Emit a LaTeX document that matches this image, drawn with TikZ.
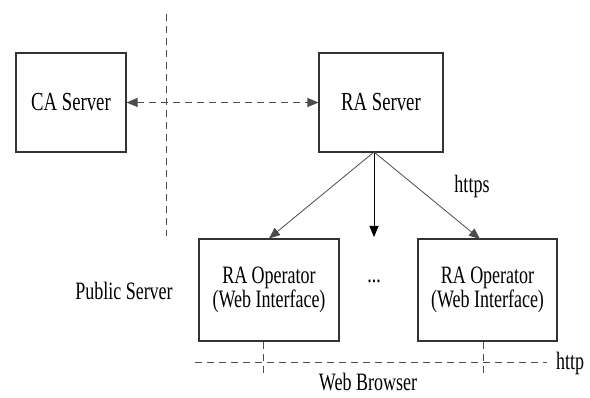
\documentclass[tikz,border=0pt]{standalone}
\usepackage{fontspec}
\setmainfont[FakeStretch=0.72]{Liberation Serif}
\usetikzlibrary{arrows.meta}
\begin{document}
\begin{tikzpicture}[x=1pt,y=-1pt,
  box/.style={draw=black!80,line width=1.1pt,inner sep=0pt,align=center},
  lbl/.style={inner sep=0pt,font=\fontsize{25}{21}\selectfont,align=center},
  tip/.style={-{Triangle[length=11pt,width=9pt]}},
  conn/.style={draw=black!70,line width=0.8pt,tip},
  dsh/.style={draw=black!70,line width=1pt,dash pattern=on 7pt off 5pt},
]
\useasboundingbox (0,0) rectangle (590,398);
\fill[white] (0,0) rectangle (590,398);
\node[box,minimum width=110pt,minimum height=99pt,font=\fontsize{26}{26}\selectfont] (ca) at (71,102.5) {CA Server};
\node[box,minimum width=124pt,minimum height=99pt,font=\fontsize{26}{26}\selectfont] (ra) at (381,102.5) {RA Server};
\node[box,minimum width=140pt,minimum height=102pt,font=\fontsize{25}{21}\selectfont] (op1) at (269,290) {RA Operator\\(Web Interface)};
\node[box,minimum width=139pt,minimum height=102pt,font=\fontsize{25}{21}\selectfont] (op2) at (487.5,290) {RA Operator\\(Web Interface)};
\node[lbl] (dots) at (374,281) {...};
\node[lbl] (pub) at (124,291) {Public Server};
\node[lbl] (https) at (472,186) {https};
\node[lbl] (http) at (570,363) {http};
\node[lbl,anchor=north] (wb) at (368,373) {Web Browser};
% separators
\coordinate (vt) at (166,14);
\coordinate (vb) at (166,236);
\draw[dsh] (vt) -- (vb);
\coordinate (hl) at (195,363);
\coordinate (hr) at (547,363);
\draw[dsh] (hl) -- (hr);
\coordinate (b1) at (263,375);
\coordinate (b2) at (483,375);
\draw[dsh] (op1.south -| b1) -- (b1);
\draw[dsh] (op2.south -| b2) -- (b2);
% connectors
\draw[dsh,{Triangle[length=11pt,width=9pt]}-{Triangle[length=11pt,width=9pt]}] (ca.east) -- (ra.west);
\coordinate (src) at (374,152);
\coordinate (mid) at (374,237);
\coordinate (t2) at (480,239);
\draw[conn] (src) -- (op1.north);
\draw[conn,draw=black] (src) -- (mid);
\draw[conn] (src) -- (t2);
\end{tikzpicture}
\end{document}
